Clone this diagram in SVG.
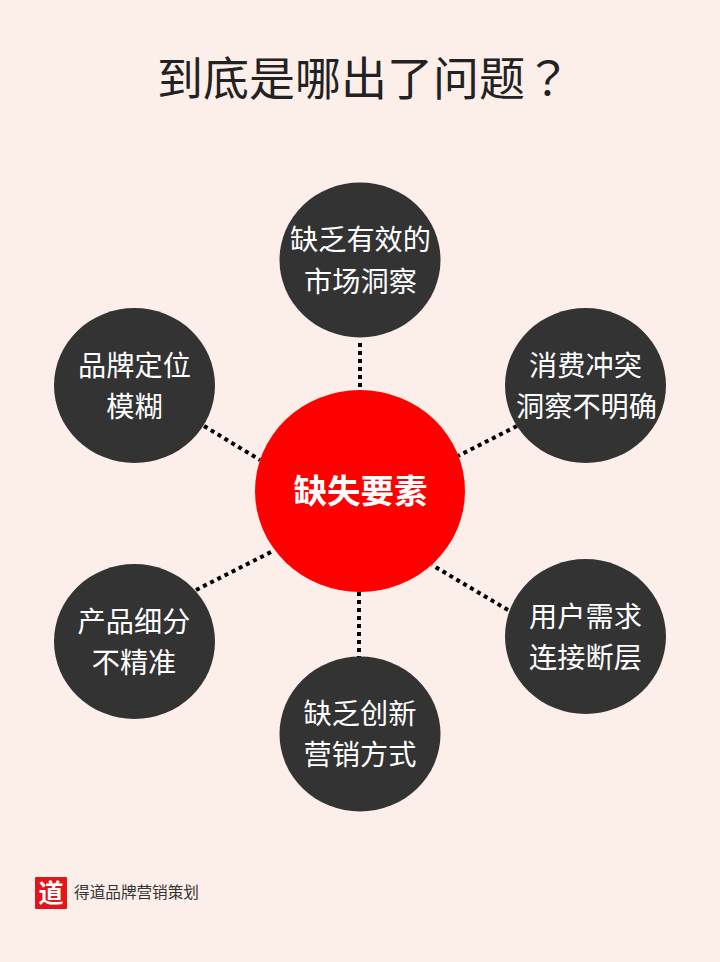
<svg xmlns="http://www.w3.org/2000/svg" width="720" height="962" viewBox="0 0 720 962">
<style>
text{font-family:"Noto Sans CJK SC","Noto Sans",sans-serif;text-anchor:middle}
.n{fill:#333333}
.l{fill:#fff;font-size:28.200px;font-weight:400}
.c{fill:none;stroke:#000;stroke-width:4;stroke-dasharray:4 4}
</style>
<rect width="720" height="962" fill="#fceee9"/>
<text x="157" y="95" font-size="46" fill="#222" style="text-anchor:start">到底是哪出了问题<tspan style="font-family:'Noto Sans CJK TC',sans-serif">？</tspan></text>
<g id="connectors">
<path class="c" d="M360 343V388"/>
<path class="c" d="M204 426L260 460"/>
<path class="c" d="M517 426L458 456"/>
<path class="c" d="M196 590L273 551"/>
<path class="c" d="M508 610L432 565"/>
<path class="c" d="M359 592V657"/>
</g>
<g id="center"><ellipse cx="360" cy="491" rx="105" ry="101" fill="#ff0000"/><text x="360.500" y="503" font-size="33.500" font-weight="700" fill="#fff">缺失要素</text></g>
<g id="n1"><ellipse class="n" cx="360" cy="260" rx="80.500" ry="77.500"/><text class="l" x="360.500" y="250">缺乏有效的</text><text class="l" x="360.500" y="292">市场洞察</text></g>
<g id="n2"><ellipse class="n" cx="134.500" cy="385.500" rx="80.500" ry="77.500"/><text class="l" x="134.500" y="376">品牌定位</text><text class="l" x="134.500" y="417">模糊</text></g>
<g id="n3"><ellipse class="n" cx="585.500" cy="385.500" rx="80.500" ry="77.500"/><text class="l" x="585.500" y="376">消费冲突</text><text class="l" x="586.500" y="417">洞察不明确</text></g>
<g id="n4"><ellipse class="n" cx="134.500" cy="641.500" rx="80.500" ry="77.500"/><text class="l" x="134" y="632">产品细分</text><text class="l" x="134" y="673">不精准</text></g>
<g id="n5"><ellipse class="n" cx="585.500" cy="636.500" rx="80.500" ry="77.500"/><text class="l" x="585.500" y="627">用户需求</text><text class="l" x="585.500" y="668">连接断层</text></g>
<g id="n6"><ellipse class="n" cx="360" cy="734" rx="80.500" ry="77.500"/><text class="l" x="360" y="724">缺乏创新</text><text class="l" x="360" y="765">营销方式</text></g>
<g id="logo"><rect x="35" y="877" width="32" height="32" rx="1" fill="#e0161b"/><text x="51" y="902" font-size="25" font-weight="700" fill="#fff" style="font-family:'Noto Sans CJK SC',sans-serif">道</text><text x="136.500" y="898" font-size="15.600" fill="#333">得道品牌营销策划</text></g>
</svg>
